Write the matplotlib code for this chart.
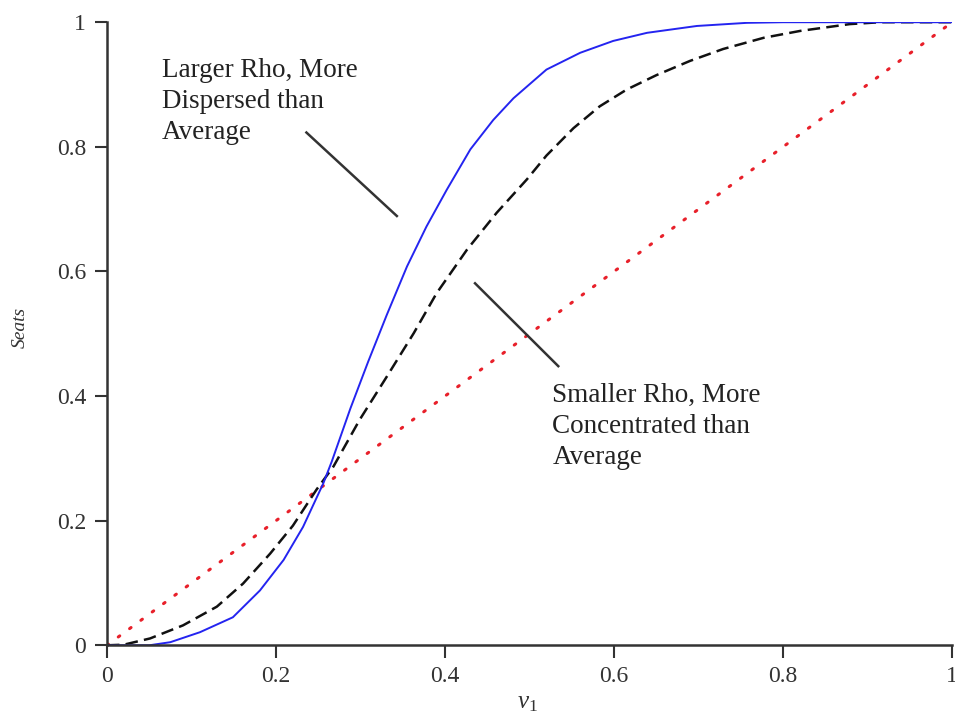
import numpy as np
import matplotlib
matplotlib.use("Agg")
import matplotlib.pyplot as plt

# === Style ===
plt.rcParams['font.family'] = ['Liberation Serif', 'DejaVu Serif']
plt.rcParams['mathtext.fontset'] = 'custom'
plt.rcParams['mathtext.rm'] = 'Liberation Serif'
plt.rcParams['mathtext.it'] = 'Liberation Serif:italic'

# === Data ===
blue_x = [0.0, 0.05, 0.075, 0.11, 0.149, 0.181, 0.209, 0.232, 0.256, 0.266, 0.288,
          0.309, 0.331, 0.355, 0.378, 0.402, 0.430, 0.457, 0.481, 0.520, 0.560,
          0.599, 0.639, 0.698, 0.757, 0.80, 0.90, 1.0]
blue_y = [0.0, 0.0, 0.005, 0.021, 0.045, 0.088, 0.137, 0.190, 0.260, 0.295, 0.380,
          0.455, 0.530, 0.608, 0.672, 0.731, 0.796, 0.843, 0.878, 0.924, 0.951,
          0.970, 0.983, 0.994, 0.999, 1.0, 1.0, 1.0]

dash_x = [0.0, 0.02, 0.051, 0.090, 0.130, 0.161, 0.193, 0.220, 0.248, 0.268, 0.299,
          0.331, 0.363, 0.390, 0.426, 0.461, 0.497, 0.520, 0.552, 0.583, 0.615,
          0.650, 0.690, 0.729, 0.777, 0.820, 0.879, 0.915, 1.0]
dash_y = [0.0, 0.001, 0.011, 0.032, 0.062, 0.099, 0.147, 0.192, 0.250, 0.287, 0.362,
          0.431, 0.501, 0.565, 0.635, 0.694, 0.748, 0.786, 0.830, 0.865, 0.892,
          0.915, 0.938, 0.957, 0.975, 0.986, 0.997, 1.0, 1.0]

diag_x = [0.0, 1.0]
diag_y = [0.0, 1.0]

x_ticks = [0, 0.2, 0.4, 0.6, 0.8, 1]
y_ticks = [0, 0.2, 0.4, 0.6, 0.8, 1]
tick_labels = ['0', '0.2', '0.4', '0.6', '0.8', '1']

label_large = "Larger Rho, More\nDispersed than\nAverage"
label_small = "Smaller Rho, More\nConcentrated than\nAverage"

# === Figure ===
fig = plt.figure(figsize=(9.55, 7.17), dpi=100)
ax = fig.add_axes([0.112, 0.1, 0.885, 0.869])

ax.plot(diag_x, diag_y, color='#e8202a', lw=2.2, linestyle=(0, (0.6, 4.0)),
        dash_capstyle='round')
ax.plot(dash_x, dash_y, color='#111111', lw=1.8, linestyle=(0, (5, 2.5)))
ax.plot(blue_x, blue_y, color='#2424f0', lw=1.4)

# annotation pointer lines
ax.plot([0.236, 0.343], [0.823, 0.689], color='#333333', lw=1.8)
ax.plot([0.4355, 0.534], [0.581, 0.448], color='#333333', lw=1.8)

ax.text(0.065, 0.873, label_large, fontsize=19.5, color='#222222',
        va='center', ha='left', linespacing=1.3)
ax.text(0.527, 0.351, label_small, fontsize=19.5, color='#222222',
        va='center', ha='left', linespacing=1.3)

ax.set_xlim(0, 1)
ax.set_ylim(0, 1)
ax.set_xticks(x_ticks)
ax.set_xticklabels(tick_labels)
ax.set_yticks(y_ticks)
ax.set_yticklabels(tick_labels)
ax.tick_params(direction='out', length=9, width=1.5, colors='#333333',
               labelsize=17, pad=6)

for side in ['top', 'right']:
    ax.spines[side].set_visible(False)
for side in ['left', 'bottom']:
    ax.spines[side].set_linewidth(1.8)
    ax.spines[side].set_color('#333333')

fig.text(0.021, 1 - 327 / 717, 'Seats', rotation=90, style='italic',
         fontsize=14, ha='center', va='center', color='#333333')
fig.text(0.552, 1 - 703 / 717, r'$v_1$', fontsize=18, ha='center',
         va='center', color='#333333')

fig.savefig("out.png", dpi=100)
